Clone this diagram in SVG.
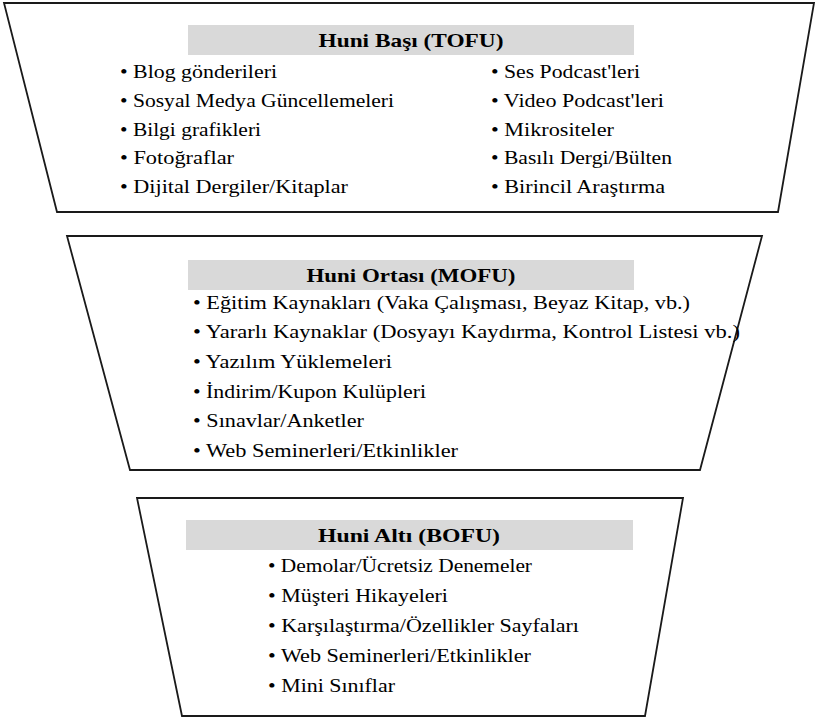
<svg xmlns="http://www.w3.org/2000/svg" width="816" height="720" viewBox="0 0 816 720">
<style>
.trap{fill:#fff;stroke:#1a1a1a;stroke-width:1.8}
.hdr{fill:#d9d9d9}
text{font-family:'Liberation Serif','DejaVu Serif',serif;font-size:19px;fill:#000}
.h{font-weight:bold;text-anchor:middle}
</style>
<rect width="816" height="720" fill="#fff"/>
<g id="connectors"></g>
<g id="tofu">
<polygon class="trap" points="4,3 814,3 778,212 57,212"/>
<rect class="hdr" x="188" y="25" width="446" height="30"/>
<text class="h" x="411" y="47" textLength="185" lengthAdjust="spacingAndGlyphs">Huni Başı (TOFU)</text>
<text x="120" y="78" textLength="157" lengthAdjust="spacingAndGlyphs">• Blog gönderileri</text>
<text x="120" y="107" textLength="274" lengthAdjust="spacingAndGlyphs">• Sosyal Medya Güncellemeleri</text>
<text x="120" y="136" textLength="141" lengthAdjust="spacingAndGlyphs">• Bilgi grafikleri</text>
<text x="120" y="164" textLength="114" lengthAdjust="spacingAndGlyphs">• Fotoğraflar</text>
<text x="120" y="193" textLength="228" lengthAdjust="spacingAndGlyphs">• Dijital Dergiler/Kitaplar</text>
<text x="491" y="78" textLength="149" lengthAdjust="spacingAndGlyphs">• Ses Podcast'leri</text>
<text x="491" y="107" textLength="173" lengthAdjust="spacingAndGlyphs">• Video Podcast'leri</text>
<text x="491" y="136" textLength="123" lengthAdjust="spacingAndGlyphs">• Mikrositeler</text>
<text x="491" y="164" textLength="181" lengthAdjust="spacingAndGlyphs">• Basılı Dergi/Bülten</text>
<text x="491" y="193" textLength="174" lengthAdjust="spacingAndGlyphs">• Birincil Araştırma</text>
</g>
<g id="mofu">
<polygon class="trap" points="67,236 762,236 700,470 130,470"/>
<rect class="hdr" x="188" y="260" width="446" height="30"/>
<text class="h" x="411" y="282" textLength="209" lengthAdjust="spacingAndGlyphs">Huni Ortası (MOFU)</text>
<text x="193" y="309" textLength="497" lengthAdjust="spacingAndGlyphs">• Eğitim Kaynakları (Vaka Çalışması, Beyaz Kitap, vb.)</text>
<text x="193" y="338" textLength="547" lengthAdjust="spacingAndGlyphs">• Yararlı Kaynaklar (Dosyayı Kaydırma, Kontrol Listesi vb.)</text>
<text x="193" y="368" textLength="199" lengthAdjust="spacingAndGlyphs">• Yazılım Yüklemeleri</text>
<text x="193" y="398" textLength="233" lengthAdjust="spacingAndGlyphs">• İndirim/Kupon Kulüpleri</text>
<text x="193" y="427" textLength="171" lengthAdjust="spacingAndGlyphs">• Sınavlar/Anketler</text>
<text x="193" y="457" textLength="265" lengthAdjust="spacingAndGlyphs">• Web Seminerleri/Etkinlikler</text>
</g>
<g id="bofu">
<polygon class="trap" points="137,498 683,498 645,716 182,716"/>
<rect class="hdr" x="186" y="520" width="447" height="30"/>
<text class="h" x="409" y="542" textLength="182" lengthAdjust="spacingAndGlyphs">Huni Altı (BOFU)</text>
<text x="268" y="572" textLength="264" lengthAdjust="spacingAndGlyphs">• Demolar/Ücretsiz Denemeler</text>
<text x="268" y="602" textLength="180" lengthAdjust="spacingAndGlyphs">• Müşteri Hikayeleri</text>
<text x="268" y="632" textLength="311" lengthAdjust="spacingAndGlyphs">• Karşılaştırma/Özellikler Sayfaları</text>
<text x="268" y="662" textLength="263" lengthAdjust="spacingAndGlyphs">• Web Seminerleri/Etkinlikler</text>
<text x="268" y="692" textLength="127" lengthAdjust="spacingAndGlyphs">• Mini Sınıflar</text>
</g>
</svg>
